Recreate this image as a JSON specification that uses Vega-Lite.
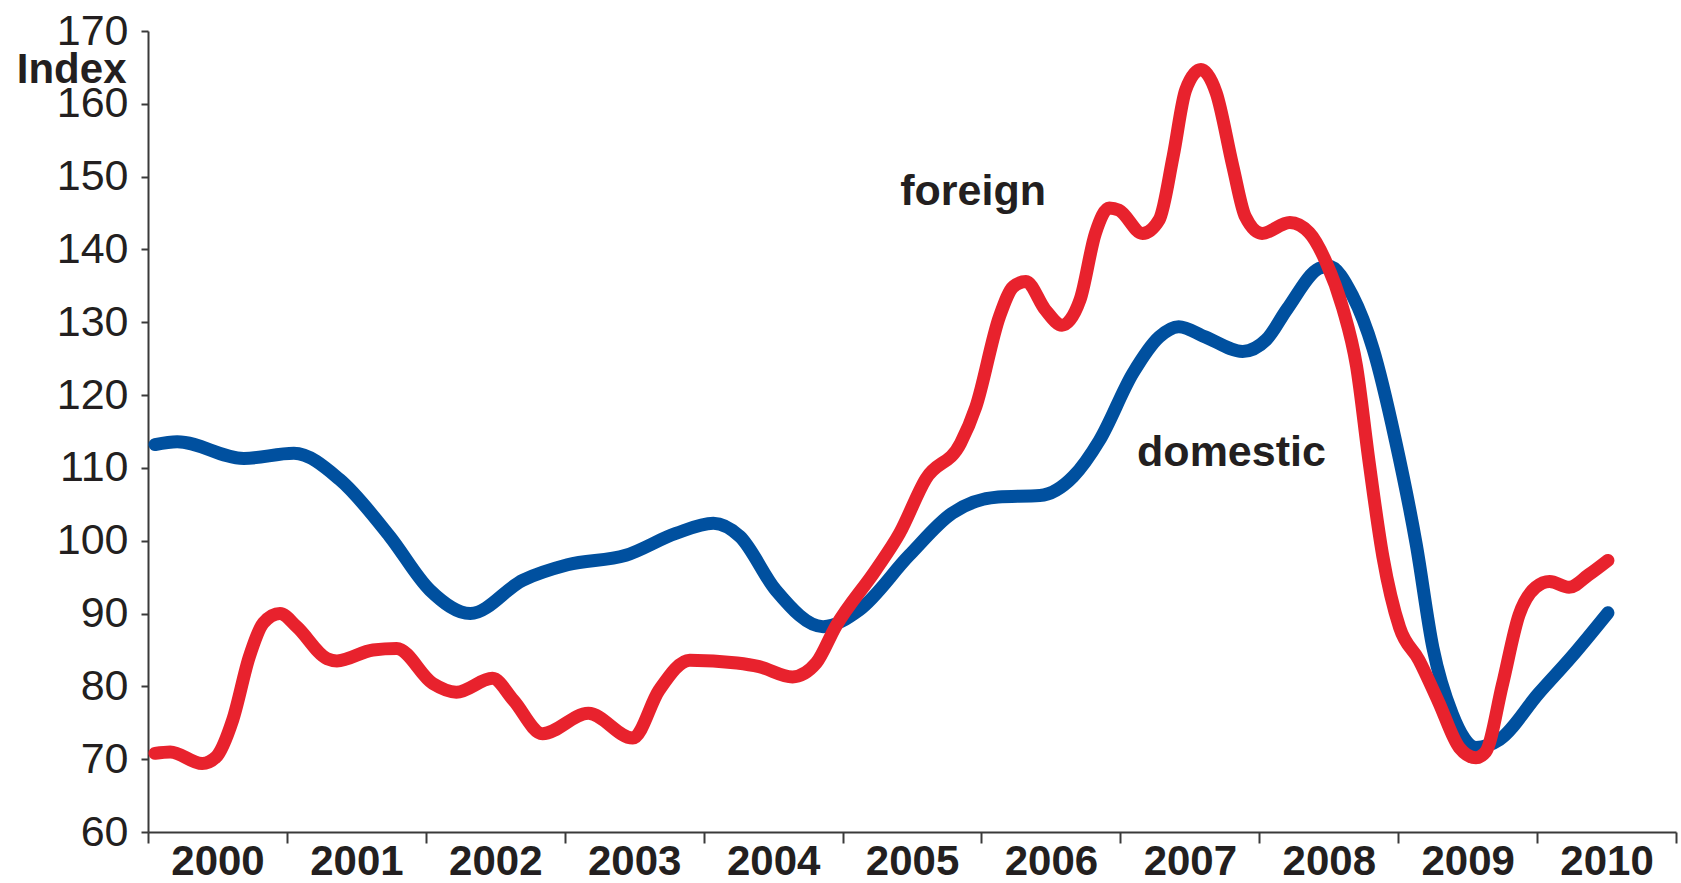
{
  "$schema": "https://vega.github.io/schema/vega-lite/v6.json",
  "width": 1528,
  "height": 801,
  "autosize": "none",
  "padding": {"left": 148, "top": 31, "right": 5, "bottom": 51},
  "background": "white",
  "config": {"view": {"stroke": null}, "font": "Liberation Sans"},
  "layer": [
    {
      "data": {
        "values": [
          {"series": "domestic", "year": 2000.05, "index": 113.2},
          {"series": "domestic", "year": 2000.21, "index": 113.6},
          {"series": "domestic", "year": 2000.69, "index": 111.3},
          {"series": "domestic", "year": 2001.05, "index": 112.0},
          {"series": "domestic", "year": 2001.38, "index": 108.4},
          {"series": "domestic", "year": 2001.74, "index": 100.6},
          {"series": "domestic", "year": 2002.03, "index": 93.2},
          {"series": "domestic", "year": 2002.32, "index": 90.0},
          {"series": "domestic", "year": 2002.7, "index": 94.6},
          {"series": "domestic", "year": 2003.02, "index": 96.7},
          {"series": "domestic", "year": 2003.44, "index": 98.0},
          {"series": "domestic", "year": 2003.8, "index": 101.0},
          {"series": "domestic", "year": 2004.07, "index": 102.4},
          {"series": "domestic", "year": 2004.26, "index": 100.6},
          {"series": "domestic", "year": 2004.52, "index": 93.2},
          {"series": "domestic", "year": 2004.86, "index": 88.2},
          {"series": "domestic", "year": 2005.12, "index": 90.5},
          {"series": "domestic", "year": 2005.48, "index": 98.0},
          {"series": "domestic", "year": 2005.79, "index": 103.8},
          {"series": "domestic", "year": 2006.12, "index": 106.0},
          {"series": "domestic", "year": 2006.42, "index": 106.2},
          {"series": "domestic", "year": 2006.66, "index": 108.8},
          {"series": "domestic", "year": 2006.85, "index": 113.8},
          {"series": "domestic", "year": 2007.09, "index": 123.0},
          {"series": "domestic", "year": 2007.28, "index": 128.0},
          {"series": "domestic", "year": 2007.42, "index": 129.4},
          {"series": "domestic", "year": 2007.61, "index": 128.0},
          {"series": "domestic", "year": 2007.88, "index": 126.0},
          {"series": "domestic", "year": 2008.05, "index": 127.6},
          {"series": "domestic", "year": 2008.2, "index": 131.8},
          {"series": "domestic", "year": 2008.43, "index": 137.4},
          {"series": "domestic", "year": 2008.5, "index": 137.7},
          {"series": "domestic", "year": 2008.67, "index": 133.7},
          {"series": "domestic", "year": 2008.82, "index": 126.3},
          {"series": "domestic", "year": 2008.98, "index": 113.8},
          {"series": "domestic", "year": 2009.13, "index": 99.5},
          {"series": "domestic", "year": 2009.25, "index": 85.3},
          {"series": "domestic", "year": 2009.39, "index": 76.2},
          {"series": "domestic", "year": 2009.56, "index": 71.6},
          {"series": "domestic", "year": 2009.73, "index": 72.7},
          {"series": "domestic", "year": 2010.01, "index": 79.0},
          {"series": "domestic", "year": 2010.25, "index": 84.1},
          {"series": "domestic", "year": 2010.51, "index": 90.1},
          {"series": "foreign", "year": 2000.05, "index": 70.8},
          {"series": "foreign", "year": 2000.16, "index": 71.0},
          {"series": "foreign", "year": 2000.39, "index": 69.4},
          {"series": "foreign", "year": 2000.49, "index": 70.3},
          {"series": "foreign", "year": 2000.61, "index": 75.4},
          {"series": "foreign", "year": 2000.73, "index": 84.1},
          {"series": "foreign", "year": 2000.83, "index": 88.7},
          {"series": "foreign", "year": 2000.95, "index": 90.0},
          {"series": "foreign", "year": 2001.07, "index": 88.2},
          {"series": "foreign", "year": 2001.29, "index": 83.8},
          {"series": "foreign", "year": 2001.36, "index": 83.5},
          {"series": "foreign", "year": 2001.62, "index": 85.0},
          {"series": "foreign", "year": 2001.79, "index": 85.2},
          {"series": "foreign", "year": 2002.05, "index": 80.4},
          {"series": "foreign", "year": 2002.22, "index": 79.2},
          {"series": "foreign", "year": 2002.48, "index": 81.1},
          {"series": "foreign", "year": 2002.63, "index": 78.1},
          {"series": "foreign", "year": 2002.84, "index": 73.5},
          {"series": "foreign", "year": 2003.17, "index": 76.3},
          {"series": "foreign", "year": 2003.49, "index": 72.9},
          {"series": "foreign", "year": 2003.68, "index": 79.5},
          {"series": "foreign", "year": 2003.9, "index": 83.6},
          {"series": "foreign", "year": 2004.24, "index": 83.2},
          {"series": "foreign", "year": 2004.4, "index": 82.7},
          {"series": "foreign", "year": 2004.64, "index": 81.3},
          {"series": "foreign", "year": 2004.81, "index": 83.2},
          {"series": "foreign", "year": 2004.95, "index": 88.2},
          {"series": "foreign", "year": 2005.24, "index": 96.0},
          {"series": "foreign", "year": 2005.41, "index": 101.0},
          {"series": "foreign", "year": 2005.6, "index": 108.5},
          {"series": "foreign", "year": 2005.85, "index": 113.4},
          {"series": "foreign", "year": 2005.96, "index": 118.4},
          {"series": "foreign", "year": 2006.13, "index": 130.8},
          {"series": "foreign", "year": 2006.23, "index": 134.9},
          {"series": "foreign", "year": 2006.32, "index": 135.6},
          {"series": "foreign", "year": 2006.46, "index": 131.7},
          {"series": "foreign", "year": 2006.58, "index": 129.6},
          {"series": "foreign", "year": 2006.71, "index": 133.1},
          {"series": "foreign", "year": 2006.82, "index": 142.2},
          {"series": "foreign", "year": 2006.92, "index": 145.7},
          {"series": "foreign", "year": 2006.99, "index": 145.4},
          {"series": "foreign", "year": 2007.16, "index": 142.2},
          {"series": "foreign", "year": 2007.28, "index": 144.1},
          {"series": "foreign", "year": 2007.38, "index": 152.8},
          {"series": "foreign", "year": 2007.47, "index": 161.9},
          {"series": "foreign", "year": 2007.58, "index": 164.7},
          {"series": "foreign", "year": 2007.69, "index": 161.5},
          {"series": "foreign", "year": 2007.81, "index": 151.4},
          {"series": "foreign", "year": 2007.9, "index": 144.5},
          {"series": "foreign", "year": 2008.02, "index": 142.2},
          {"series": "foreign", "year": 2008.22, "index": 143.7},
          {"series": "foreign", "year": 2008.36, "index": 142.3},
          {"series": "foreign", "year": 2008.48, "index": 138.3},
          {"series": "foreign", "year": 2008.6, "index": 132.0},
          {"series": "foreign", "year": 2008.7, "index": 124.0},
          {"series": "foreign", "year": 2008.79, "index": 110.9},
          {"series": "foreign", "year": 2008.89, "index": 97.8},
          {"series": "foreign", "year": 2009.01, "index": 88.1},
          {"series": "foreign", "year": 2009.15, "index": 83.6},
          {"series": "foreign", "year": 2009.29, "index": 77.9},
          {"series": "foreign", "year": 2009.44, "index": 71.6},
          {"series": "foreign", "year": 2009.56, "index": 70.2},
          {"series": "foreign", "year": 2009.63, "index": 71.0},
          {"series": "foreign", "year": 2009.75, "index": 80.2},
          {"series": "foreign", "year": 2009.87, "index": 89.8},
          {"series": "foreign", "year": 2009.99, "index": 93.6},
          {"series": "foreign", "year": 2010.09, "index": 94.4},
          {"series": "foreign", "year": 2010.23, "index": 93.6},
          {"series": "foreign", "year": 2010.37, "index": 95.3},
          {"series": "foreign", "year": 2010.51, "index": 97.3}
        ]
      },
      "mark": {"type": "line", "interpolate": "monotone", "strokeWidth": 13, "strokeCap": "round", "strokeJoin": "round"},
      "encoding": {
        "x": {
          "field": "year",
          "type": "quantitative",
          "scale": {"domain": [2000, 2011], "nice": false, "zero": false},
          "axis": {
            "values": [2000, 2001, 2002, 2003, 2004, 2005, 2006, 2007, 2008, 2009, 2010, 2011],
            "title": null,
            "grid": false,
            "labelExpr": "datum.value >= 2011 ? '' : format(datum.value, 'd')",
            "labelOffset": 69.5,
            "labelFontSize": 42,
            "labelFontWeight": "bold",
            "labelColor": "#231f20",
            "labelPadding": -2,
            "labelFlush": false,
            "labelOverlap": false,
            "domainColor": "#3a3a3a",
            "domainWidth": 2,
            "tickColor": "#3a3a3a",
            "tickWidth": 2,
            "tickSize": 11
          }
        },
        "y": {
          "field": "index",
          "type": "quantitative",
          "scale": {"domain": [60, 170], "nice": false, "zero": false},
          "axis": {
            "values": [60, 70, 80, 90, 100, 110, 120, 130, 140, 150, 160, 170],
            "grid": false,
            "format": "d",
            "labelFontSize": 43,
            "labelColor": "#231f20",
            "labelPadding": 13,
            "labelFlush": false,
            "labelOverlap": false,
            "domainColor": "#3a3a3a",
            "domainWidth": 2,
            "tickColor": "#3a3a3a",
            "tickWidth": 2,
            "tickSize": 7,
            "title": "Index",
            "titleAngle": 0,
            "titleAlign": "right",
            "titleBaseline": "alphabetic",
            "titleX": -22,
            "titleY": 51,
            "titleFontSize": 42,
            "titleFontWeight": "bold",
            "titleColor": "#231f20",
            "encode": {
              "labels": {"update": {"dy": {"signal": "datum.value == 170 ? -6 : 0"}}}
            }
          }
        },
        "color": {
          "field": "series",
          "type": "nominal",
          "scale": {"domain": ["domestic", "foreign"], "range": ["#00509f", "#e8222d"]},
          "legend": null
        }
      }
    },
    {
      "data": {
        "values": [
          {"label": "foreign", "year": 2005.94, "index": 146.1},
          {"label": "domestic", "year": 2007.8, "index": 110.2}
        ]
      },
      "mark": {"type": "text", "fontSize": 43, "fontWeight": "bold", "align": "center", "baseline": "alphabetic", "color": "#231f20"},
      "encoding": {
        "x": {"field": "year", "type": "quantitative"},
        "y": {"field": "index", "type": "quantitative"},
        "text": {"field": "label"}
      }
    }
  ]
}
